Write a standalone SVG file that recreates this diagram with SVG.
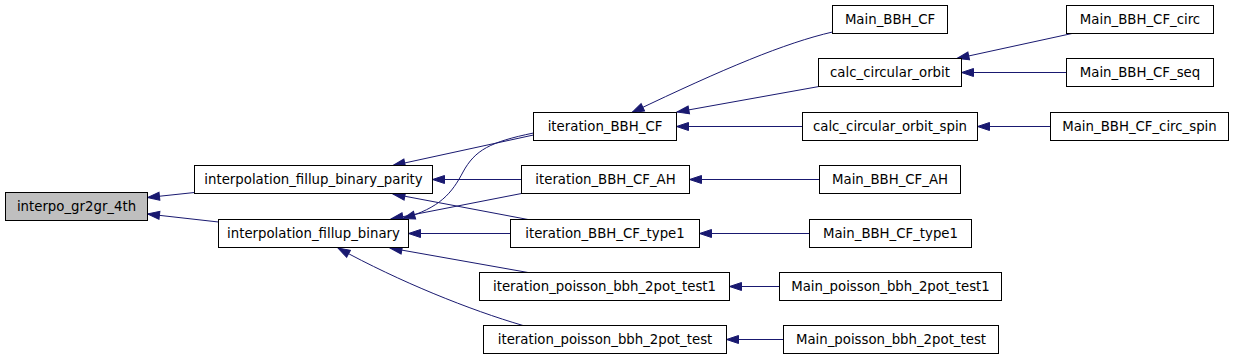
<svg xmlns="http://www.w3.org/2000/svg" width="1235" height="360" viewBox="0 0 1235 360">
<style>
.n rect{fill:#ffffff;stroke:#000000;stroke-width:1}
.n.root rect{fill:#bfbfbf}
.n text{font-family:"DejaVu Sans","Liberation Sans",sans-serif;font-size:13.3px;text-anchor:middle;fill:#000000}
.e path{fill:none;stroke:#191970;stroke-width:1;marker-end:url(#ah)}
</style>
<defs>
<marker id="ah" markerUnits="userSpaceOnUse" markerWidth="14" markerHeight="11" refX="12" refY="5" orient="auto" viewBox="-1 0 14 10">
<path d="M0,1 L12,5 L0,9 z" fill="#191970" stroke="#191970" stroke-width="1"/>
</marker>
</defs>
<rect width="1235" height="360" fill="#ffffff"/>
<g id="edges" class="e">
<path d="M194.5,192.5 L147.5,197.5"/>
<path d="M218.5,222 L147.5,214"/>
<path d="M533.5,135 L393,165.5"/>
<path d="M533.5,133 C490,142 475,150 463,172 C452,193 440,208 403,218.5"/>
<path d="M521.5,179.5 L432.5,179.5"/>
<path d="M521.5,193.5 L391,219"/>
<path d="M528,219.5 L393,194"/>
<path d="M510.5,233.5 L408.5,233.5"/>
<path d="M528,272.5 L390,248"/>
<path d="M523,325.5 C470,310 400,282 338,248"/>
<path d="M832.5,32 C785,43 725,68 632,112.5"/>
<path d="M819,86.5 L677,112"/>
<path d="M802.5,126.5 L676.5,126.5"/>
<path d="M1072,33.5 L957,58.5"/>
<path d="M1066.5,72.5 L961.5,72.5"/>
<path d="M1050.5,126.5 L977.5,126.5"/>
<path d="M819.5,179.5 L689.5,179.5"/>
<path d="M809.5,233.5 L699.5,233.5"/>
<path d="M779.5,286.5 L729.5,286.5"/>
<path d="M783.5,339.5 L726.5,339.5"/>
</g>
<g id="node_interpo_gr2gr_4th" class="n root"><rect x="5.5" y="192.5" width="142" height="28"/><text x="76.5" y="211">interpo_gr2gr_4th</text></g>
<g id="node_interpolation_fillup_binary_parity" class="n"><rect x="194.5" y="165.5" width="238" height="28"/><text x="313.5" y="184">interpolation_fillup_binary_parity</text></g>
<g id="node_interpolation_fillup_binary" class="n"><rect x="218.5" y="219.5" width="190" height="28"/><text x="313.5" y="238">interpolation_fillup_binary</text></g>
<g id="node_iteration_BBH_CF" class="n"><rect x="533.5" y="112.5" width="143" height="28"/><text x="605" y="131">iteration_BBH_CF</text></g>
<g id="node_iteration_BBH_CF_AH" class="n"><rect x="521.5" y="165.5" width="168" height="28"/><text x="605.5" y="184">iteration_BBH_CF_AH</text></g>
<g id="node_iteration_BBH_CF_type1" class="n"><rect x="510.5" y="219.5" width="189" height="28"/><text x="605" y="238">iteration_BBH_CF_type1</text></g>
<g id="node_iteration_poisson_bbh_2pot_test1" class="n"><rect x="479.5" y="272.5" width="250" height="28"/><text x="604.5" y="291">iteration_poisson_bbh_2pot_test1</text></g>
<g id="node_iteration_poisson_bbh_2pot_test" class="n"><rect x="483.5" y="325.5" width="243" height="28"/><text x="605" y="344">iteration_poisson_bbh_2pot_test</text></g>
<g id="node_Main_BBH_CF" class="n"><rect x="832.5" y="5.5" width="115" height="28"/><text x="890" y="24">Main_BBH_CF</text></g>
<g id="node_calc_circular_orbit" class="n"><rect x="818.5" y="58.5" width="143" height="28"/><text x="890" y="77">calc_circular_orbit</text></g>
<g id="node_calc_circular_orbit_spin" class="n"><rect x="802.5" y="112.5" width="175" height="28"/><text x="890" y="131">calc_circular_orbit_spin</text></g>
<g id="node_Main_BBH_CF_circ" class="n"><rect x="1066.5" y="5.5" width="147" height="28"/><text x="1140" y="24">Main_BBH_CF_circ</text></g>
<g id="node_Main_BBH_CF_seq" class="n"><rect x="1066.5" y="58.5" width="147" height="28"/><text x="1140" y="77">Main_BBH_CF_seq</text></g>
<g id="node_Main_BBH_CF_circ_spin" class="n"><rect x="1050.5" y="112.5" width="178" height="28"/><text x="1139.5" y="131">Main_BBH_CF_circ_spin</text></g>
<g id="node_Main_BBH_CF_AH" class="n"><rect x="819.5" y="165.5" width="141" height="28"/><text x="890" y="184">Main_BBH_CF_AH</text></g>
<g id="node_Main_BBH_CF_type1" class="n"><rect x="809.5" y="219.5" width="162" height="28"/><text x="890.5" y="238">Main_BBH_CF_type1</text></g>
<g id="node_Main_poisson_bbh_2pot_test1" class="n"><rect x="779.5" y="272.5" width="222" height="28"/><text x="890.5" y="291">Main_poisson_bbh_2pot_test1</text></g>
<g id="node_Main_poisson_bbh_2pot_test" class="n"><rect x="783.5" y="325.5" width="215" height="28"/><text x="891" y="344">Main_poisson_bbh_2pot_test</text></g>
</svg>
